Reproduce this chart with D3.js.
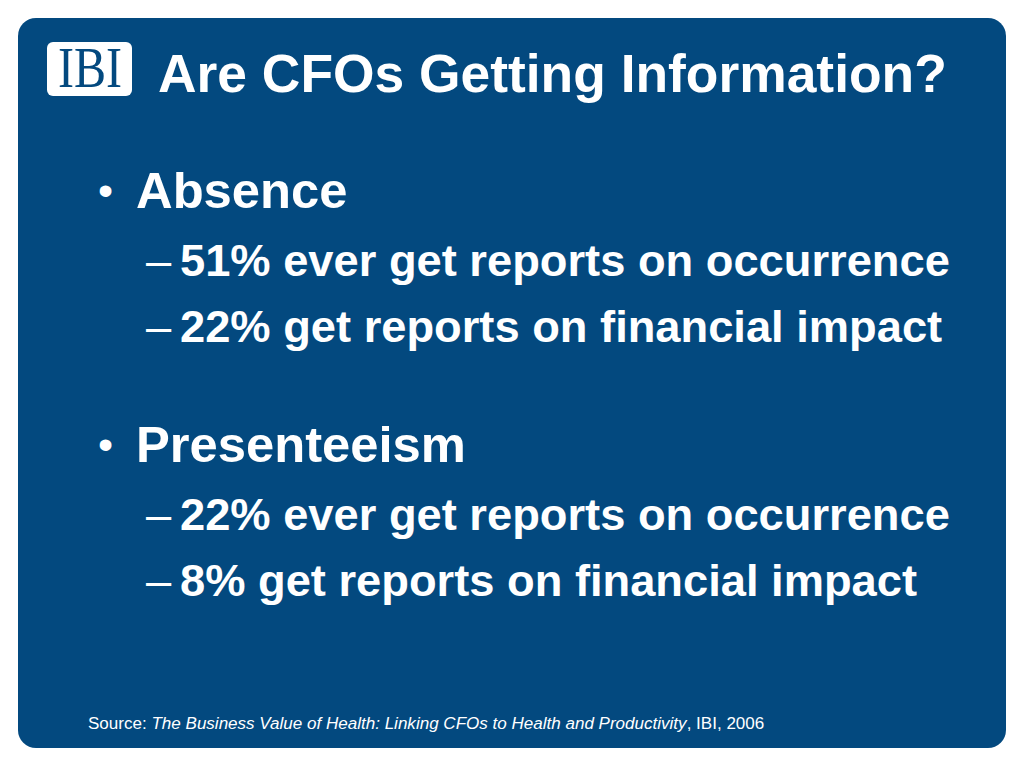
<!DOCTYPE html>
<html>
<head>
<meta charset="utf-8">
<script src="https://cdn.jsdelivr.net/npm/d3@7"></script>
<style>
  html, body { margin: 0; padding: 0; background: #fff; }
  svg { display: block; }
</style>
</head>
<body>
<svg id="slide" width="1024" height="768"></svg>
<script>
// slide content
const title = "Are CFOs Getting Information?";
const logoText = "IBI";
const topics = ["Absence", "Presenteeism"];
const topicItems = [
  ["51% ever get reports on occurrence", "22% get reports on financial impact"],
  ["22% ever get reports on occurrence", "8% get reports on financial impact"]
];
const sourceParts = [
  { text: "Source: ", italic: false },
  { text: "The Business Value of Health: Linking CFOs to Health and Productivity", italic: true },
  { text: ", IBI, 2006", italic: false }
];

const blue = "#03497f";
const font = "'Liberation Sans', Arial, sans-serif";

const svg = d3.select("#slide");

// background panel
svg.append("rect")
  .attr("x", 18).attr("y", 18)
  .attr("width", 988).attr("height", 730)
  .attr("rx", 18)
  .attr("fill", blue);

// logo
const logo = svg.append("g").attr("transform", "translate(47,42)");
logo.append("rect")
  .attr("width", 85).attr("height", 54)
  .attr("rx", 6)
  .attr("fill", "#fff");
logo.append("text")
  .attr("x", 11).attr("y", 45)
  .attr("font-family", "'Liberation Serif', 'Times New Roman', serif")
  .attr("font-size", 56)
  .attr("textLength", 64)
  .attr("lengthAdjust", "spacingAndGlyphs")
  .attr("fill", blue)
  .text(logoText);

// fit text to a given width
function fitText(sel, width, base) {
  const len = sel.node().getComputedTextLength();
  sel.attr("font-size", base * width / len);
  return base * width / len;
}

const titleText = svg.append("text")
  .attr("x", 158).attr("y", 92)
  .attr("font-family", font)
  .attr("font-weight", "bold")
  .attr("font-size", 50)
  .attr("fill", "#fff")
  .text(title);
fitText(titleText, 789, 50);

const yTopic = d3.scalePoint().domain(topics).range([208, 462]);
const ySub = d3.scaleLinear().domain([0, 1]).range([68, 134]);

// measure font sizes from reference lines
const probe = svg.append("text")
  .attr("font-family", font).attr("font-weight", "bold")
  .attr("font-size", 40).text("Presenteeism");
const topicSize = 40 * 330 / probe.node().getComputedTextLength();
probe.text("51% ever get reports on occurrence");
const subSize = 40 * 770 / probe.node().getComputedTextLength();
probe.remove();

const body = svg.append("g")
  .attr("font-family", font)
  .attr("font-weight", "bold")
  .attr("fill", "#fff");

topics.forEach((t, i) => {
  const y0 = yTopic(t);
  body.append("text")
    .attr("x", 98).attr("y", y0 - 3)
    .attr("font-size", topicSize * 0.85)
    .attr("font-weight", "normal")
    .text("\u2022");
  body.append("text")
    .attr("x", 136).attr("y", y0)
    .attr("font-size", topicSize)
    .text(t);
  topicItems[i].forEach((s, j) => {
    const y = y0 + ySub(j);
    body.append("text")
      .attr("x", 146).attr("y", y)
      .attr("font-size", subSize)
      .attr("font-weight", "normal")
      .text("\u2013");
    body.append("text")
      .attr("x", 180).attr("y", y)
      .attr("font-size", subSize)
      .text(s);
  });
});

// source line
const src = svg.append("text")
  .attr("x", 88).attr("y", 729)
  .attr("font-family", font)
  .attr("font-size", 15)
  .attr("fill", "#fff");
src.selectAll("tspan")
  .data(sourceParts)
  .join("tspan")
  .attr("font-style", d => d.italic ? "italic" : "normal")
  .text(d => d.text);
fitText(src, 677, 15);
</script>
</body>
</html>
